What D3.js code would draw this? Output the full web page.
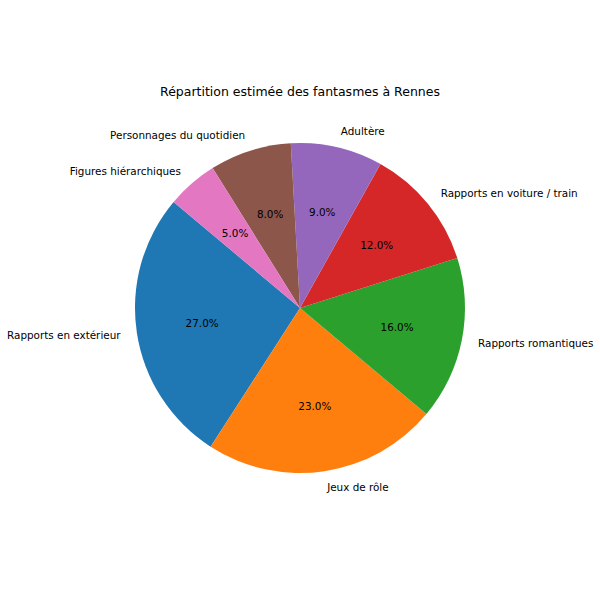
<!DOCTYPE html>
<meta charset="utf-8">
<script src="https://d3js.org/d3.v7.min.js"></script>
<style>
  body { margin: 0; background: white; }
  text { font-family: "DejaVu Sans", sans-serif; fill: #000; }
</style>
<svg width="600" height="600"></svg>

<script>

  // Data
  const categories = ['Rapports en extérieur', 'Jeux de rôle', 'Rapports romantiques',
    'Rapports en voiture / train', 'Adultère', 'Personnages du quotidien', 'Figures hiérarchiques'];
  const shares = [27, 23, 16, 12, 9, 8, 5];
  const colors = ['#1f77b4', '#ff7f0e', '#2ca02c', '#d62728', '#9467bd', '#8c564b', '#e377c2'];
  const title = 'Répartition estimée des fantasmes à Rennes';

  const svg = d3.select('svg');
  const cx = 300, cy = 308, r = 165;

  // matplotlib: start at 140 deg, counterclockwise
  const start = (90 - 140) * Math.PI / 180;
  const pie = d3.pie()
    .sort(null)
    .value(d => d)
    .startAngle(start)
    .endAngle(start - 2 * Math.PI);

  const arcs = pie(shares);
  const arc = d3.arc().innerRadius(0).outerRadius(r);
  const labelArc = d3.arc().innerRadius(r * 1.1).outerRadius(r * 1.1);
  const pctArc = d3.arc().innerRadius(r * 0.6).outerRadius(r * 0.6);

  const g = svg.append('g').attr('transform', `translate(${cx},${cy})`);

  // Slices
  g.selectAll('path')
    .data(arcs)
    .join('path')
    .attr('d', arc)
    .attr('fill', (d, i) => colors[i]);

  // Outer labels
  g.selectAll('text.label')
    .data(arcs)
    .join('text')
    .attr('class', 'label')
    .attr('x', d => labelArc.centroid(d)[0])
    .attr('y', d => labelArc.centroid(d)[1])
    .attr('text-anchor', d => labelArc.centroid(d)[0] > 0 ? 'start' : 'end')
    .attr('dominant-baseline', 'central')
    .style('font-size', '10.4px')
    .text((d, i) => categories[i]);

  // Percentages
  g.selectAll('text.pct')
    .data(arcs)
    .join('text')
    .attr('class', 'pct')
    .attr('x', d => pctArc.centroid(d)[0])
    .attr('y', d => pctArc.centroid(d)[1])
    .attr('text-anchor', 'middle')
    .attr('dominant-baseline', 'central')
    .style('font-size', '10.4px')
    .text(d => d.value.toFixed(1) + '%');

  // Title
  svg.append('text')
    .attr('x', 300)
    .attr('y', 91)
    .attr('text-anchor', 'middle')
    .attr('dominant-baseline', 'central')
    .style('font-size', '12.5px')
    .text(title);

</script>
